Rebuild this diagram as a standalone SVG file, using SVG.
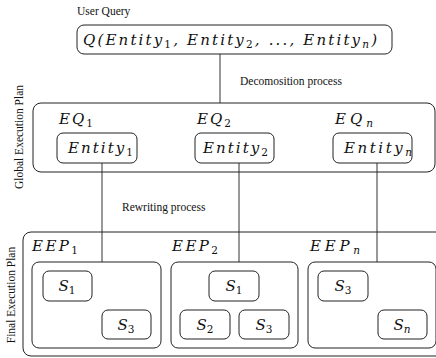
<svg xmlns="http://www.w3.org/2000/svg" width="436" height="358" viewBox="0 0 436 358">
<style>
.box{fill:none;stroke:#222;stroke-width:1}
.ln{stroke:#333;stroke-width:1;fill:none}
.lbl{font-family:'Liberation Serif','Times New Roman','DejaVu Serif',serif;font-size:11.5px;fill:#111}
.m{font-family:'DejaVu Serif','Liberation Serif',serif;font-style:italic;font-size:15px;fill:#111}
.sub{font-size:10.5px;font-style:normal}
.subi{font-size:10.5px}
</style>
<rect width="436" height="358" fill="#fff"/>
<g id="connectors">
<line class="ln" x1="220" y1="54" x2="220" y2="103"/>
<line class="ln" x1="102" y1="163" x2="102" y2="262"/>
<line class="ln" x1="239" y1="163" x2="239" y2="262"/>
<line class="ln" x1="377" y1="163" x2="377" y2="262"/>
<text class="lbl" x="240" y="85">Decomosition process</text>
<text class="lbl" x="122" y="211">Rewriting process</text>
</g>
<g id="query">
<text class="lbl" x="77" y="15">User Query</text>
<rect class="box" x="77" y="25" width="315" height="29" rx="7"/>
<text class="m" x="83" y="45" textLength="294" lengthAdjust="spacing">Q(Entity<tspan class="sub" dy="3">1</tspan><tspan dy="-3">, Entity</tspan><tspan class="sub" dy="3">2</tspan><tspan dy="-3">, ..., Entity</tspan><tspan class="subi" dy="3">n</tspan><tspan dy="-3">)</tspan></text>
</g>
<g id="global-plan">
<text class="lbl" transform="translate(23,137) rotate(-90)" text-anchor="middle">Global Execution Plan</text>
<rect class="box" x="33" y="103" width="402" height="69" rx="8"/>
</g>
<g id="eq1">
<text class="m" x="59" y="124" textLength="34" lengthAdjust="spacing">EQ<tspan class="sub" dy="3">1</tspan></text>
<rect class="box" x="57" y="133" width="80" height="30" rx="6"/>
<text class="m" x="68" y="153" textLength="65" lengthAdjust="spacing">Entity<tspan class="sub" dy="3">1</tspan></text>
</g>
<g id="eq2">
<text class="m" x="197" y="124" textLength="34" lengthAdjust="spacing">EQ<tspan class="sub" dy="3">2</tspan></text>
<rect class="box" x="195" y="133" width="79" height="30" rx="6"/>
<text class="m" x="203" y="153" textLength="65" lengthAdjust="spacing">Entity<tspan class="sub" dy="3">2</tspan></text>
</g>
<g id="eqn">
<text class="m" x="335" y="124" textLength="38" lengthAdjust="spacing">EQ<tspan class="subi" dy="3">n</tspan></text>
<rect class="box" x="333" y="133" width="79" height="30" rx="6"/>
<text class="m" x="344" y="153" textLength="68" lengthAdjust="spacing">Entity<tspan class="subi" dy="3">n</tspan></text>
</g>
<g id="final-plan">
<text class="lbl" transform="translate(15,295) rotate(-90)" text-anchor="middle">Final Execution Plan</text>
<rect class="box" x="23" y="232" width="430" height="124" rx="8"/>
</g>
<g id="eep1">
<text class="m" x="32" y="251" textLength="46" lengthAdjust="spacing">EEP<tspan class="sub" dy="3">1</tspan></text>
<rect class="box" x="32" y="262" width="129" height="86" rx="7"/>
<g id="eep1-s1"><rect class="box" x="43" y="271" width="49" height="30" rx="6"/><text class="m" x="67" y="291" text-anchor="middle">S<tspan class="sub" dy="3">1</tspan></text></g>
<g id="eep1-s3"><rect class="box" x="102" y="310" width="49" height="29" rx="6"/><text class="m" x="126" y="330" text-anchor="middle">S<tspan class="sub" dy="3">3</tspan></text></g>
</g>
<g id="eep2">
<text class="m" x="172" y="251" textLength="46" lengthAdjust="spacing">EEP<tspan class="sub" dy="3">2</tspan></text>
<rect class="box" x="171" y="262" width="127" height="86" rx="7"/>
<g id="eep2-s1"><rect class="box" x="209" y="271" width="50" height="30" rx="6"/><text class="m" x="234" y="291" text-anchor="middle">S<tspan class="sub" dy="3">1</tspan></text></g>
<g id="eep2-s2"><rect class="box" x="180" y="310" width="50" height="29" rx="6"/><text class="m" x="205" y="330" text-anchor="middle">S<tspan class="sub" dy="3">2</tspan></text></g>
<g id="eep2-s3"><rect class="box" x="239" y="310" width="50" height="29" rx="6"/><text class="m" x="264" y="330" text-anchor="middle">S<tspan class="sub" dy="3">3</tspan></text></g>
</g>
<g id="eepn">
<text class="m" x="310" y="251" textLength="50" lengthAdjust="spacing">EEP<tspan class="subi" dy="3">n</tspan></text>
<rect class="box" x="308" y="262" width="128" height="86" rx="7"/>
<g id="eepn-s3"><rect class="box" x="318" y="271" width="50" height="30" rx="6"/><text class="m" x="343" y="291" text-anchor="middle">S<tspan class="sub" dy="3">3</tspan></text></g>
<g id="eepn-sn"><rect class="box" x="378" y="310" width="49" height="29" rx="6"/><text class="m" x="402" y="330" text-anchor="middle">S<tspan class="subi" dy="3">n</tspan></text></g>
</g>
</svg>
